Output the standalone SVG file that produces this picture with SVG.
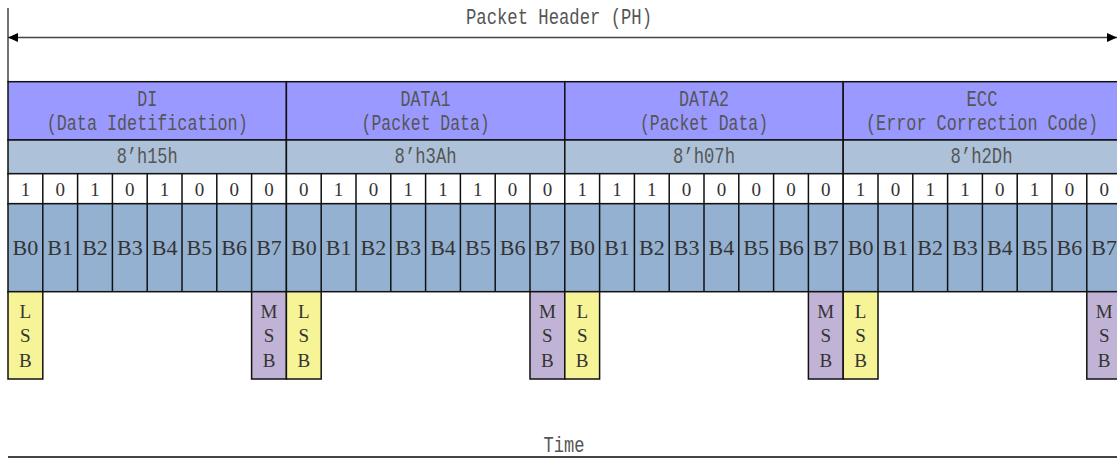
<svg xmlns="http://www.w3.org/2000/svg" width="1117" height="462" viewBox="0 0 1117 462">
<defs>
<marker id="ah" markerUnits="userSpaceOnUse" markerWidth="11" markerHeight="10" refX="10" refY="4.5" orient="auto-start-reverse"><path d="M0,0 L10,4.5 L0,9 z" fill="#000"/></marker>
<style>
.hdr{fill:#9999ff;stroke:#111;stroke-width:1.5}
.hex{fill:#adc1d9;stroke:#111;stroke-width:1.5}
.bits{fill:#fff;stroke:#111;stroke-width:1.5}
.brow{fill:#95b1d1;stroke:#111;stroke-width:1.5}
.sep{stroke:#111;stroke-width:1.5}
.lsb{fill:#f6f496;stroke:#111;stroke-width:1.5}
.msb{fill:#c1b3d6;stroke:#111;stroke-width:1.5}
.t{font-family:"Liberation Mono",monospace;font-size:22px;fill:#555;text-anchor:middle}
.s{font-family:"Liberation Serif",serif;fill:#333;text-anchor:middle}
.bit{font-size:19px}
.bl{font-size:22px}
.v{font-size:19px}
.ax{stroke:#444;stroke-width:1.5;fill:none}
</style>
</defs>
<rect width="1117" height="462" fill="#fff"/>

<g id="connectors">
<line class="ax" x1="8" y1="8" x2="8" y2="82"/>
<line class="ax" x1="8" y1="37.5" x2="1117" y2="37.5" marker-start="url(#ah)" marker-end="url(#ah)"/>
<line x1="8" y1="457" x2="1117" y2="457" stroke="#444" stroke-width="2"/>
</g>

<g id="title">
<text class="t" x="559" y="24" textLength="186" lengthAdjust="spacingAndGlyphs">Packet Header (PH)</text>
<text class="t" x="564" y="451.5" textLength="41" lengthAdjust="spacingAndGlyphs">Time</text>
</g>

<g id="seg-di">
<rect class="hdr" x="8" y="81.7" width="278.4" height="58.3"/>
<rect class="hex" x="8" y="140" width="278.4" height="33.7"/>
<rect class="bits" x="8" y="173.7" width="278.4" height="30"/>
<rect class="brow" x="8" y="203.7" width="278.4" height="88"/>
<path class="sep" d="M42.8,173.7V291.7M77.6,173.7V291.7M112.4,173.7V291.7M147.2,173.7V291.7M182,173.7V291.7M216.8,173.7V291.7M251.6,173.7V291.7"/>
<text class="t" x="147.2" y="106" textLength="20" lengthAdjust="spacingAndGlyphs">DI</text>
<text class="t" x="147.2" y="129.5" textLength="201" lengthAdjust="spacingAndGlyphs">(Data Idetification)</text>
<text class="t" x="147.2" y="163" textLength="61" lengthAdjust="spacingAndGlyphs">8’h15h</text>
<g class="s bit">
<text x="25.4" y="196">1</text><text x="60.2" y="196">0</text><text x="95" y="196">1</text><text x="129.8" y="196">0</text><text x="164.6" y="196">1</text><text x="199.4" y="196">0</text><text x="234.2" y="196">0</text><text x="269" y="196">0</text>
</g>
<g class="s bl">
<text x="25.4" y="255">B0</text><text x="60.2" y="255">B1</text><text x="95" y="255">B2</text><text x="129.8" y="255">B3</text><text x="164.6" y="255">B4</text><text x="199.4" y="255">B5</text><text x="234.2" y="255">B6</text><text x="269" y="255">B7</text>
</g>
<rect class="lsb" x="8" y="291.7" width="34.8" height="87.3"/>
<rect class="msb" x="251.6" y="291.7" width="34.8" height="87.3"/>
<g class="s v">
<text x="25.4" y="318">L</text><text x="25.4" y="342">S</text><text x="25.4" y="367">B</text>
<text x="269" y="318">M</text><text x="269" y="342">S</text><text x="269" y="367">B</text>
</g>
</g>

<g id="seg-data1">
<rect class="hdr" x="286.4" y="81.7" width="278.4" height="58.3"/>
<rect class="hex" x="286.4" y="140" width="278.4" height="33.7"/>
<rect class="bits" x="286.4" y="173.7" width="278.4" height="30"/>
<rect class="brow" x="286.4" y="203.7" width="278.4" height="88"/>
<path class="sep" d="M321.2,173.7V291.7M356,173.7V291.7M390.8,173.7V291.7M425.6,173.7V291.7M460.4,173.7V291.7M495.2,173.7V291.7M530,173.7V291.7"/>
<text class="t" x="425.6" y="106" textLength="50" lengthAdjust="spacingAndGlyphs">DATA1</text>
<text class="t" x="425.6" y="129.5" textLength="128" lengthAdjust="spacingAndGlyphs">(Packet Data)</text>
<text class="t" x="425.6" y="163" textLength="62" lengthAdjust="spacingAndGlyphs">8’h3Ah</text>
<g class="s bit">
<text x="303.8" y="196">0</text><text x="338.6" y="196">1</text><text x="373.4" y="196">0</text><text x="408.2" y="196">1</text><text x="443" y="196">1</text><text x="477.8" y="196">1</text><text x="512.6" y="196">0</text><text x="547.4" y="196">0</text>
</g>
<g class="s bl">
<text x="303.8" y="255">B0</text><text x="338.6" y="255">B1</text><text x="373.4" y="255">B2</text><text x="408.2" y="255">B3</text><text x="443" y="255">B4</text><text x="477.8" y="255">B5</text><text x="512.6" y="255">B6</text><text x="547.4" y="255">B7</text>
</g>
<rect class="lsb" x="286.4" y="291.7" width="34.8" height="87.3"/>
<rect class="msb" x="530" y="291.7" width="34.8" height="87.3"/>
<g class="s v">
<text x="303.8" y="318">L</text><text x="303.8" y="342">S</text><text x="303.8" y="367">B</text>
<text x="547.4" y="318">M</text><text x="547.4" y="342">S</text><text x="547.4" y="367">B</text>
</g>
</g>

<g id="seg-data2">
<rect class="hdr" x="564.8" y="81.7" width="278.4" height="58.3"/>
<rect class="hex" x="564.8" y="140" width="278.4" height="33.7"/>
<rect class="bits" x="564.8" y="173.7" width="278.4" height="30"/>
<rect class="brow" x="564.8" y="203.7" width="278.4" height="88"/>
<path class="sep" d="M599.6,173.7V291.7M634.4,173.7V291.7M669.2,173.7V291.7M704,173.7V291.7M738.8,173.7V291.7M773.6,173.7V291.7M808.4,173.7V291.7"/>
<text class="t" x="704" y="106" textLength="50" lengthAdjust="spacingAndGlyphs">DATA2</text>
<text class="t" x="704" y="129.5" textLength="128" lengthAdjust="spacingAndGlyphs">(Packet Data)</text>
<text class="t" x="704" y="163" textLength="62" lengthAdjust="spacingAndGlyphs">8’h07h</text>
<g class="s bit">
<text x="582.2" y="196">1</text><text x="617" y="196">1</text><text x="651.8" y="196">1</text><text x="686.6" y="196">0</text><text x="721.4" y="196">0</text><text x="756.2" y="196">0</text><text x="791" y="196">0</text><text x="825.8" y="196">0</text>
</g>
<g class="s bl">
<text x="582.2" y="255">B0</text><text x="617" y="255">B1</text><text x="651.8" y="255">B2</text><text x="686.6" y="255">B3</text><text x="721.4" y="255">B4</text><text x="756.2" y="255">B5</text><text x="791" y="255">B6</text><text x="825.8" y="255">B7</text>
</g>
<rect class="lsb" x="564.8" y="291.7" width="34.8" height="87.3"/>
<rect class="msb" x="808.4" y="291.7" width="34.8" height="87.3"/>
<g class="s v">
<text x="582.2" y="318">L</text><text x="582.2" y="342">S</text><text x="582.2" y="367">B</text>
<text x="825.8" y="318">M</text><text x="825.8" y="342">S</text><text x="825.8" y="367">B</text>
</g>
</g>

<g id="seg-ecc">
<rect class="hdr" x="843.2" y="81.7" width="278.4" height="58.3"/>
<rect class="hex" x="843.2" y="140" width="278.4" height="33.7"/>
<rect class="bits" x="843.2" y="173.7" width="278.4" height="30"/>
<rect class="brow" x="843.2" y="203.7" width="278.4" height="88"/>
<path class="sep" d="M878,173.7V291.7M912.8,173.7V291.7M947.6,173.7V291.7M982.4,173.7V291.7M1017.2,173.7V291.7M1052,173.7V291.7M1086.8,173.7V291.7"/>
<text class="t" x="982" y="106" textLength="31" lengthAdjust="spacingAndGlyphs">ECC</text>
<text class="t" x="982" y="129.5" textLength="232" lengthAdjust="spacingAndGlyphs">(Error Correction Code)</text>
<text class="t" x="981.5" y="163" textLength="62" lengthAdjust="spacingAndGlyphs">8’h2Dh</text>
<g class="s bit">
<text x="860.6" y="196">1</text><text x="895.4" y="196">0</text><text x="930.2" y="196">1</text><text x="965" y="196">1</text><text x="999.8" y="196">0</text><text x="1034.6" y="196">1</text><text x="1069.4" y="196">0</text><text x="1104.2" y="196">0</text>
</g>
<g class="s bl">
<text x="860.6" y="255">B0</text><text x="895.4" y="255">B1</text><text x="930.2" y="255">B2</text><text x="965" y="255">B3</text><text x="999.8" y="255">B4</text><text x="1034.6" y="255">B5</text><text x="1069.4" y="255">B6</text><text x="1104.2" y="255">B7</text>
</g>
<rect class="lsb" x="843.2" y="291.7" width="34.8" height="87.3"/>
<rect class="msb" x="1086.8" y="291.7" width="34.8" height="87.3"/>
<g class="s v">
<text x="860.6" y="318">L</text><text x="860.6" y="342">S</text><text x="860.6" y="367">B</text>
<text x="1104.2" y="318">M</text><text x="1104.2" y="342">S</text><text x="1104.2" y="367">B</text>
</g>
</g>
</svg>
